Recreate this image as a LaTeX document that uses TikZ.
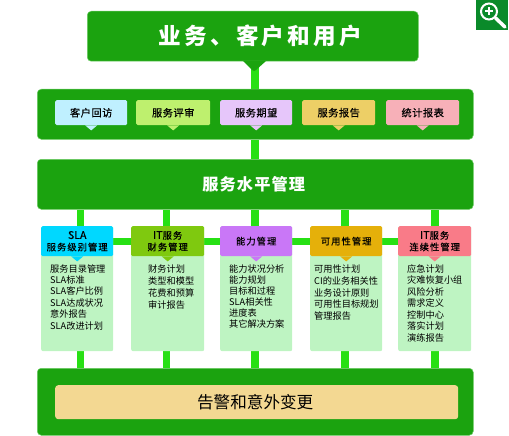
\documentclass[tikz,border=0pt]{standalone}
\usepackage{fontspec}
\setmainfont{Noto Sans CJK SC}
\newfontfamily\cjk{Noto Sans CJK SC}
\newfontfamily\cjkwide[LetterSpace=14]{Noto Sans CJK SC}
\newfontfamily\cjktrack[LetterSpace=7]{Noto Sans CJK SC}
\newfontfamily\cjkchip[LetterSpace=5,FakeBold=0.5]{Noto Sans CJK SC}
\newfontfamily\cjkhead[LetterSpace=11,FakeBold=0.5]{Noto Sans CJK SC}
\newfontfamily\cjkhlat[FakeBold=0.5]{Noto Sans CJK SC}
\newcommand{\hlat}[1]{{\cjkhlat\fontsize{10.6}{11.6}\selectfont #1}}
\definecolor{maingreen}{HTML}{1BA30F}
\definecolor{edgegreen}{HTML}{6CCB64}
\definecolor{conn}{HTML}{27E014}
\definecolor{bodygreen}{HTML}{BEF4C2}
\definecolor{iconbg}{HTML}{0A8A2A}
\definecolor{cA}{HTML}{BFF0FF}
\definecolor{cB}{HTML}{BEF06E}
\definecolor{cC}{HTML}{E6C6FA}
\definecolor{cD}{HTML}{EDCF66}
\definecolor{cE}{HTML}{F7B0B8}
\definecolor{hA}{HTML}{00D8FF}
\definecolor{hB}{HTML}{7FC90F}
\definecolor{hC}{HTML}{C977F7}
\definecolor{hD}{HTML}{E5B00A}
\definecolor{hE}{HTML}{F97B88}
\definecolor{bottominner}{HTML}{F3D892}
\tikzset{
  x=1pt,y=-1pt,
  band/.style={draw=edgegreen,line width=0.5pt,fill=maingreen,rounded corners=4pt,inner sep=0pt,anchor=north west,text=white},
  conn/.style={draw=conn,line width=8pt},
  connh/.style={draw=conn,line width=6.5pt},
  chip/.style={draw=none,rounded corners=1.5pt,inner sep=0pt,minimum height=25pt,anchor=north west,
     font=\cjkchip\fontsize{10.2}{12}\selectfont,text=black},
  colbody/.style={fill=bodygreen,rounded corners=2pt,inner sep=0pt,anchor=north west,minimum height=125pt},
  colhead/.style={rounded corners=1.5pt,inner sep=0pt,anchor=north west,minimum height=30pt,align=center,
     font=\cjkhead\fontsize{9.3}{11.6}\selectfont,text=black},
  collist/.style={inner sep=0pt,anchor=north west,align=left,text=black},
}
\newcommand{\chiptail}[2]{\fill[#2] ([xshift=-6pt]#1.south) -- ([xshift=6pt]#1.south) -- ([yshift=-5pt]#1.south) -- cycle;}
\begin{document}
\begin{tikzpicture}
\useasboundingbox (0,0) rectangle (509,436);
\pgfdeclarelayer{back}\pgfsetlayers{back,main}
% top
\node[band,minimum width=331pt,minimum height=50pt,font=\cjkwide\fontsize{22.6}{26}\selectfont\bfseries] (top) at (87,11) {\hspace*{15pt}\raisebox{2pt}{业务、客户和用户}};
\fill[maingreen] (243,61) -- (266,61) -- (256,70) -- (254,71) -- (252,70) -- cycle;
% band 2
\node[band,minimum width=436pt,minimum height=50pt] (review) at (37,89) {};
\node[chip,fill=cA,minimum width=72pt] (c1) at (55,100) {客户回访};
\node[chip,fill=cB,minimum width=74pt] (c2) at (136,100) {服务评审};
\node[chip,fill=cC,minimum width=72pt] (c3) at (220,100) {服务期望};
\node[chip,fill=cD,minimum width=73pt] (c4) at (302,100) {服务报告};
\node[chip,fill=cE,minimum width=73pt] (c5) at (386,100) {统计报表};
\chiptail{c1}{cA}\chiptail{c2}{cB}\chiptail{c3}{cC}\chiptail{c4}{cD}\chiptail{c5}{cE}
% band 3
\node[band,minimum width=436pt,minimum height=50pt,font=\cjktrack\fontsize{16.2}{18}\selectfont\bfseries] (slm) at (37,159) {服务水平管理\hspace*{3pt}};
% columns
\foreach \n/\xx/\w in {1/41/72,2/131/73,3/220/72,4/310/72,5/398/73}{
  \node[colbody,minimum width=\w pt] (b\n) at (\xx,226) {};
}
\node[colhead,fill=hA,minimum width=72pt] (h1) at (41,226) {\hlat{SLA}\\服务级别管理};
\node[colhead,fill=hB,minimum width=73pt] (h2) at (131,226) {\hlat{IT}服务\\财务管理};
\node[colhead,fill=hC,minimum width=72pt] (h3) at (220,226) {能力管理};
\node[colhead,fill=hD,minimum width=72pt] (h4) at (310,226) {可用性管理};
\node[colhead,fill=hE,minimum width=73pt] (h5) at (398,226) {\hlat{IT}服务\\连续性管理};
\chiptail{h1}{hA}\chiptail{h2}{hB}\chiptail{h3}{hC}\chiptail{h4}{hD}\chiptail{h5}{hE}
\node[collist,font=\cjk\fontsize{9.2}{11.35}\selectfont] (l1) at (50,264.3) {服务目录管理\\SLA标准\\SLA客户比例\\SLA达成状况\\意外报告\\SLA改进计划};
\node[collist,font=\cjk\fontsize{9.2}{12}\selectfont] (l2) at (148,264.3) {财务计划\\类型和模型\\花费和预算\\审计报告};
\node[collist,font=\cjk\fontsize{9.2}{11}\selectfont] (l3) at (229,264.3) {能力状况分析\\能力规划\\目标和过程\\SLA相关性\\进度表\\其它解决方案};
\node[collist,font=\cjk\fontsize{9.2}{11.9}\selectfont] (l4) at (314,264.3) {可用性计划\\CI的业务相关性\\业务设计原则\\可用性目标规划\\管理报告};
\node[collist,font=\cjk\fontsize{9.2}{11.5}\selectfont] (l5) at (407,264.3) {应急计划\\灾难恢复小组\\风险分析\\需求定义\\控制中心\\落实计划\\演练报告};
% bottom
\node[band,minimum width=436pt,minimum height=67pt] (alert) at (37,368) {};
\node[draw=none,fill=bottominner,rounded corners=3pt,inner sep=0pt,anchor=north west,minimum width=403pt,minimum height=34pt,text=black,font=\cjk\fontsize{16.6}{20}\selectfont] (alertin) at (55,385) {告警和意外变更\hspace*{3pt}};
% icon
\node[fill=iconbg,inner sep=0pt,anchor=north west,minimum width=32pt,minimum height=30pt] (icon) at (476,0) {};
\draw[white,line width=2pt] ([shift={(13,11.5)}]icon.north west) circle[radius=8pt];
\draw[white,line width=3.5pt,line cap=round] ([shift={(19.5,18)}]icon.north west) -- ([shift={(29,27)}]icon.north west);
\draw[white,line width=2pt] ([shift={(9,11.5)}]icon.north west) -- ([shift={(17,11.5)}]icon.north west);
\draw[white,line width=2pt] ([shift={(13,7.5)}]icon.north west) -- ([shift={(13,15.5)}]icon.north west);
% connectors
\begin{pgfonlayer}{back}
\draw[conn] (review.north |- top.south) -- (review.north);
\draw[conn] (review.south) -- (slm.north);
\foreach \n/\dx/\wd in {1/3.5/7,2/-1/7,3/-1/8,4/-1/8,5/0/8}{
  \draw[conn,line width=\wd pt] ([xshift=\dx pt]h\n.north) -- ([xshift=\dx pt]h\n.north |- slm.south);
  \draw[conn,line width=\wd pt] ([xshift=\dx pt]b\n.south) -- ([xshift=\dx pt]b\n.south |- alert.north);
}
\draw[connh] ([yshift=-0.5pt]h1.east) -- ([yshift=-0.5pt]h2.west);
\draw[connh] ([yshift=-0.5pt]h2.east) -- ([yshift=-0.5pt]h3.west);
\draw[connh] ([yshift=-0.5pt]h3.east) -- ([yshift=-0.5pt]h4.west);
\draw[connh] ([yshift=-0.5pt]h4.east) -- ([yshift=-0.5pt]h5.west);
\end{pgfonlayer}
\end{tikzpicture}
\end{document}
